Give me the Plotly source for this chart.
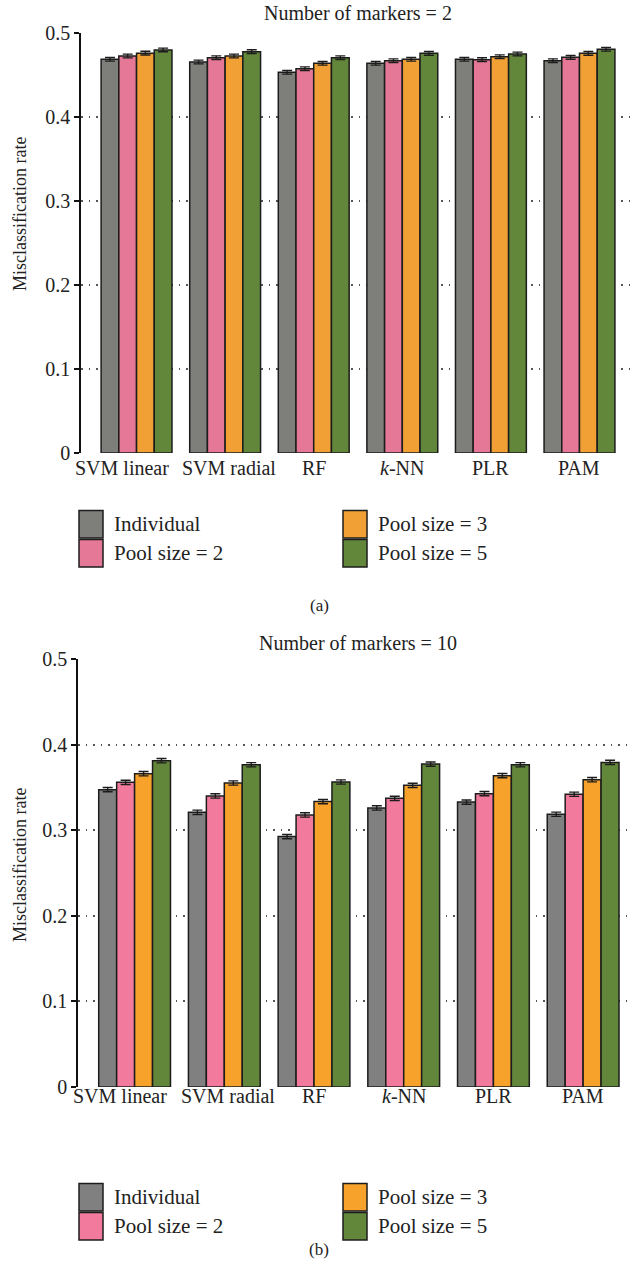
import plotly.graph_objects as go

# Classifiers and pooling schemes
methods = ["SVM linear", "SVM radial", "RF", "k-NN", "PLR", "PAM"]
method_labels = ["SVM linear", "SVM radial", "RF", "<i>k</i>-NN", "PLR", "PAM"]
series_names = ["Individual", "Pool size = 2", "Pool size = 3", "Pool size = 5"]

# Misclassification rate, 2 markers
m2_individual = [0.4687, 0.4655, 0.4532, 0.4639, 0.4687, 0.4670]
m2_pool2 = [0.4726, 0.4706, 0.4575, 0.4670, 0.4683, 0.4710]
m2_pool3 = [0.4760, 0.4726, 0.4639, 0.4687, 0.4718, 0.4758]
m2_pool5 = [0.4798, 0.4778, 0.4706, 0.4758, 0.4750, 0.4806]
m2_err = [0.0022, 0.0022, 0.0022, 0.0022, 0.0022, 0.0022]

# Misclassification rate, 10 markers
m10_individual = [0.3474, 0.3209, 0.2925, 0.3260, 0.3328, 0.3186]
m10_pool2 = [0.3559, 0.3400, 0.3178, 0.3372, 0.3427, 0.3420]
m10_pool3 = [0.3660, 0.3551, 0.3334, 0.3524, 0.3637, 0.3590]
m10_pool5 = [0.3812, 0.3765, 0.3563, 0.3772, 0.3765, 0.3792]
m10_err = [0.0025, 0.0025, 0.0025, 0.0025, 0.0025, 0.0025]

y_ticks = [0, 0.1, 0.2, 0.3, 0.4, 0.5]
y_ticktext = ["0", "0.1", "0.2", "0.3", "0.4", "0.5"]

colors_a = ["#7e7e7a", "#e47896", "#f0a035", "#63873a"]
colors_b = ["#808080", "#f27b9d", "#f7a22a", "#63873a"]

FONT = "Liberation Serif"
INK = "#222222"
EDGE = "#1c1c1c"
W, H = 638, 1261

# nudges keeping the two long SVM labels apart
label_shift = [-15, 4, 0, 0, 0, 0]


def px_x(v):
    return v / W


def px_y(v):
    return 1 - v / H


fig = go.Figure()

panels = [
    dict(data=[m2_individual, m2_pool2, m2_pool3, m2_pool5], err=m2_err,
         colors=colors_a, xa="x", ya="y", label_y=468, legend_rows=(524, 553)),
    dict(data=[m10_individual, m10_pool2, m10_pool3, m10_pool5], err=m10_err,
         colors=colors_b, xa="x2", ya="y2", label_y=1096, legend_rows=(1197, 1226)),
]

shapes = []
annotations = []
legend_font = dict(family=FONT, size=21, color=INK)
label_font = dict(family=FONT, size=20, color=INK)
legend_cols = (79, 343)  # swatch left edges

for p in panels:
    for i, (name, vals) in enumerate(zip(series_names, p["data"])):
        fig.add_trace(go.Bar(
            x=methods, y=vals, name=name,
            marker=dict(color=p["colors"][i], line=dict(color=EDGE, width=1.5)),
            error_y=dict(type="data", array=p["err"], color=EDGE,
                         thickness=1.4, width=5),
            xaxis=p["xa"], yaxis=p["ya"], showlegend=False,
        ))
    # category labels under each group
    for m, lab, dx in zip(methods, method_labels, label_shift):
        annotations.append(dict(
            text=lab, xref=p["xa"], yref="paper", x=m, y=px_y(p["label_y"]),
            xshift=dx, xanchor="center", yanchor="middle", showarrow=False,
            font=label_font,
        ))
    # key: two columns of two entries (Individual / Pool 2, Pool 3 / Pool 5)
    for i, name in enumerate(series_names):
        col, row = divmod(i, 2)
        x0 = legend_cols[col]
        yc = p["legend_rows"][row]
        shapes.append(dict(
            type="rect", xref="paper", yref="paper",
            x0=px_x(x0), x1=px_x(x0 + 24), y0=px_y(yc + 14), y1=px_y(yc - 13.5),
            fillcolor=p["colors"][i], line=dict(color=EDGE, width=1.5), layer="above",
        ))
        annotations.append(dict(
            text=name, xref="paper", yref="paper", x=px_x(x0 + 33), y=px_y(yc),
            xanchor="left", yanchor="middle", showarrow=False, font=legend_font,
        ))

grid_style = dict(showgrid=True, gridcolor="#555555", griddash="1.5px,6px", gridwidth=1.5)

yaxis_common = dict(
    range=[0, 0.5], tickvals=y_ticks, ticktext=y_ticktext,
    showline=True, linecolor="#111111", linewidth=1.5,
    ticks="outside", ticklen=5, tickcolor="#111111", tickwidth=1.5,
    tickfont=dict(family=FONT, size=20, color=INK),
    zeroline=False, **grid_style,
)
xaxis_common = dict(
    type="category", categoryarray=methods, showticklabels=False,
    showline=False, showgrid=False, ticks="", zeroline=False,
)

fig.update_layout(
    width=W, height=H,
    margin=dict(l=0, r=0, t=0, b=0, autoexpand=False),
    paper_bgcolor="white", plot_bgcolor="white",
    barmode="group", bargap=0.2, bargroupgap=0.0,
    font=dict(family=FONT, color=INK),
    showlegend=False,
    xaxis=dict(domain=[81 / W, 633 / W], range=[-0.627, 5.604], anchor="y", **xaxis_common),
    yaxis=dict(domain=[px_y(453), px_y(33)], anchor="x", **yaxis_common),
    xaxis2=dict(domain=[78 / W, 633 / W], range=[-0.631, 5.556], anchor="y2", **xaxis_common),
    yaxis2=dict(domain=[px_y(1087), px_y(659)], anchor="x2", **yaxis_common),
)

title_font = dict(family=FONT, size=20, color=INK)
ytitle_font = dict(family=FONT, size=18, color=INK)
cap_font = dict(family=FONT, size=17, color=INK)
annotations += [
    dict(text="Number of markers = 2", x=px_x(358), y=px_y(13), xref="paper", yref="paper",
         showarrow=False, font=title_font, xanchor="center", yanchor="middle"),
    dict(text="Number of markers = 10", x=px_x(358), y=px_y(643), xref="paper", yref="paper",
         showarrow=False, font=title_font, xanchor="center", yanchor="middle"),
    dict(text="Misclassification rate", x=px_x(20), y=px_y(214), xref="paper", yref="paper",
         showarrow=False, font=ytitle_font, textangle=-90, xanchor="center", yanchor="middle"),
    dict(text="Misclassification rate", x=px_x(20), y=px_y(865), xref="paper", yref="paper",
         showarrow=False, font=ytitle_font, textangle=-90, xanchor="center", yanchor="middle"),
    dict(text="(a)", x=0.5, y=px_y(605), xref="paper", yref="paper",
         showarrow=False, font=cap_font, xanchor="center", yanchor="middle"),
    dict(text="(b)", x=0.5, y=px_y(1249), xref="paper", yref="paper",
         showarrow=False, font=cap_font, xanchor="center", yanchor="middle"),
]
fig.update_layout(shapes=shapes, annotations=annotations)

fig.write_html("out.html")
